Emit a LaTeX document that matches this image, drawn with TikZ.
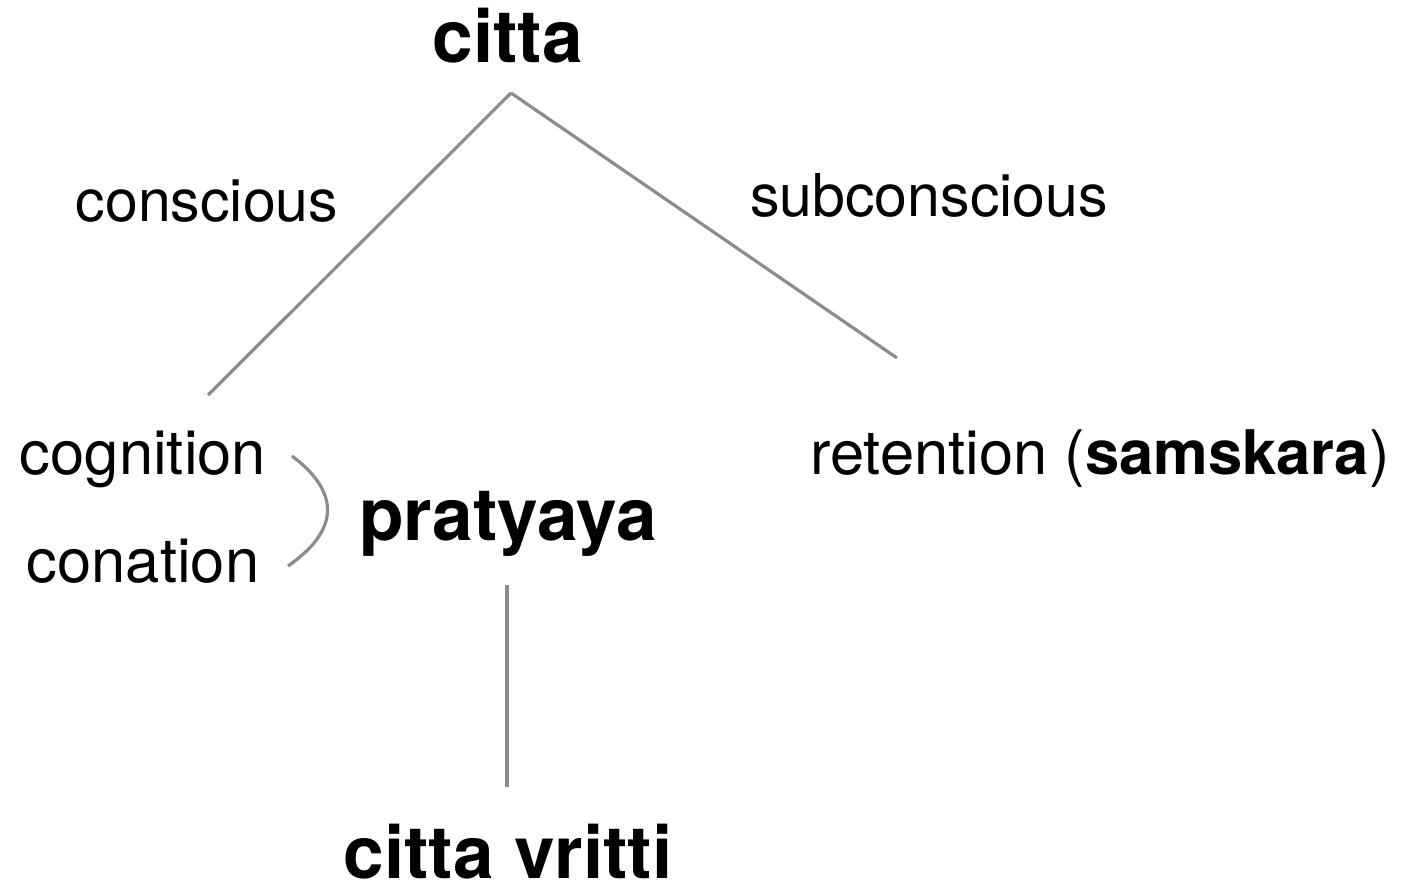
\documentclass[tikz,border=0pt]{standalone}
\usepackage{fontspec}
\setmainfont{TeX Gyre Heros}
\begin{document}
\begin{tikzpicture}[x=1pt,y=-1pt,
  big/.style={anchor=base,inner sep=0pt,font=\fontsize{73}{80}\selectfont\bfseries},
  small/.style={anchor=base,inner sep=0pt,font=\fontsize{59}{66}\selectfont},
  mid/.style={anchor=base,inner sep=0pt,font=\fontsize{61.5}{68}\selectfont},
  link/.style={draw=black!45,line width=3.2pt}]
\useasboundingbox (0,0) rectangle (1403,893);
\node[big] (citta) at (508,63) {citta};
\node[small] (conscious) at (207,222) {conscious};
\node[small] (subconscious) at (929,217) {subconscious};
\node[mid] (cognition) at (143,474) {cognition};
\node[mid] (conation) at (143,582) {conation};
\node[big] (pratyaya) at (508,540) {pratyaya};
\node[mid] (retention) at (1100,474) {retention (\textbf{samskara})};
\node[big] (vritti) at (508,878) {citta vritti};
\coordinate (apex) at (511,93);
\coordinate (leftend) at (208,395);
\coordinate (rightend) at (897,358);
\coordinate (vtop) at (507,585);
\coordinate (vbot) at (507,787);
\coordinate (arcA) at (292,456);
\coordinate (arcB) at (288,566);
\draw[link] (apex) -- (leftend);
\draw[link] (apex) -- (rightend);
\draw[link] (vtop) -- (vbot);
\draw[link] (arcA) .. controls (340,492) and (340,530) .. (arcB);
\end{tikzpicture}
\end{document}
